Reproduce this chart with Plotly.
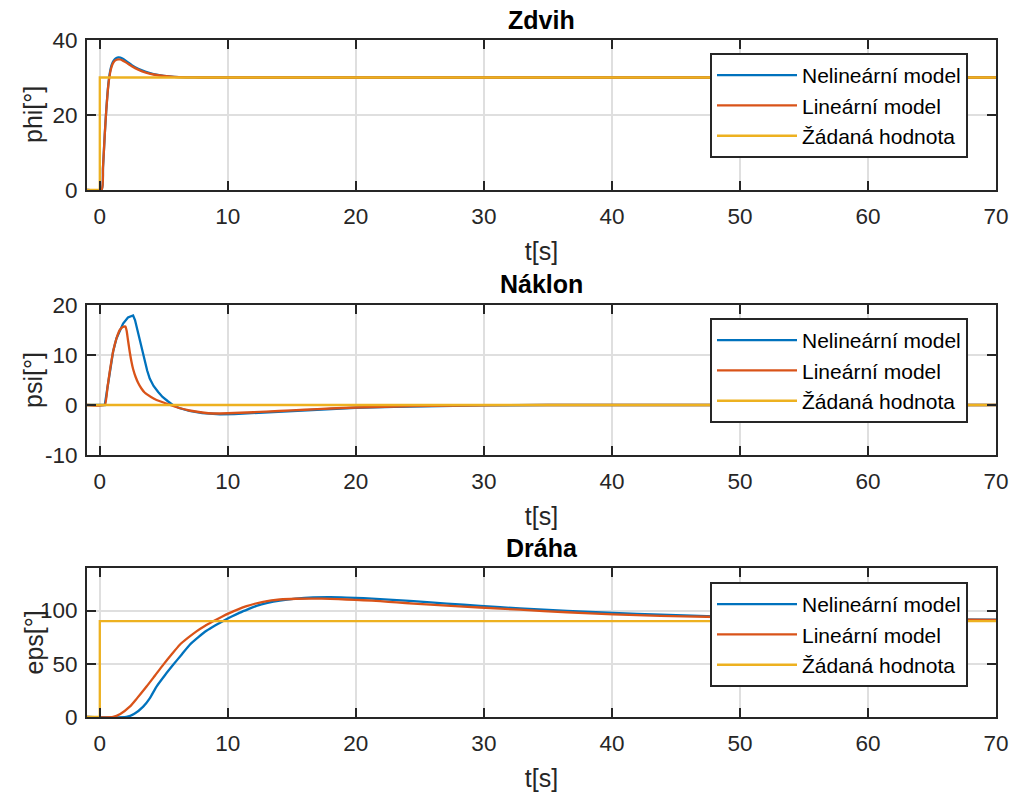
import plotly.graph_objects as go

# ---------------- data ----------------
# Zdvih (phi)
phi_nl_t = [-1, 0.13, 0.25, 0.39, 0.5, 0.62, 0.73, 0.85, 1.0, 1.15, 1.3, 1.45, 1.6, 1.8, 2.1, 2.5, 3.0, 3.6, 4.2, 5.0, 5.8, 6.8, 8.0, 10, 70]
phi_nl_y = [0, 0, 6, 15, 21, 26.5, 30, 32.4, 34.0, 34.8, 35.2, 35.35, 35.3, 35.0, 34.3, 33.3, 32.3, 31.5, 30.9, 30.45, 30.18, 30.05, 30.0, 30.0, 30.0]
phi_lin_t = [-1, 0.13, 0.25, 0.39, 0.5, 0.62, 0.73, 0.85, 1.0, 1.15, 1.3, 1.45, 1.6, 1.8, 2.1, 2.5, 3.0, 3.6, 4.2, 5.0, 5.8, 6.8, 8.0, 10, 70]
phi_lin_y = [0, 0, 6, 15, 21, 26.3, 29.7, 32.0, 33.6, 34.4, 34.75, 34.85, 34.8, 34.5, 33.9, 33.0, 32.1, 31.3, 30.8, 30.4, 30.15, 30.04, 30.0, 30.0, 30.0]
phi_ref_t = [-1, 0, 0, 70]
phi_ref_y = [0, 0, 30, 30]

# Náklon (psi)
psi_nl_t = [-1, 0.39, 0.6, 0.78, 1.04, 1.3, 1.56, 1.82, 2.2, 2.6, 2.75, 2.9, 3.05, 3.2, 3.35, 3.52, 3.7, 3.9, 4.2, 4.56, 4.9, 5.34, 5.7, 6.2, 7.0, 8.0, 9.4, 10.5, 12, 14, 16, 18, 20, 23, 26, 30, 35, 70]
psi_nl_y = [0, 0, 3.5, 6.7, 10.7, 13.3, 15.0, 16.3, 17.5, 17.9, 17.0, 15.4, 13.7, 12.0, 10.3, 8.7, 6.9, 5.3, 3.8, 2.6, 1.6, 0.7, 0.0, -0.6, -1.2, -1.6, -1.85, -1.8, -1.6, -1.3, -1.0, -0.75, -0.55, -0.35, -0.2, -0.08, 0, 0]
psi_lin_t = [-1, 0.39, 0.6, 0.78, 1.04, 1.3, 1.56, 1.8, 2.0, 2.1, 2.2, 2.34, 2.47, 2.6, 2.8, 3.0, 3.25, 3.5, 4.0, 4.43, 5.2, 5.5, 6.2, 7.0, 8.0, 8.85, 10, 12, 14, 16, 18, 20, 23, 26, 30, 35, 70]
psi_lin_y = [0, 0, 3.5, 6.7, 10.7, 13.3, 15.0, 15.6, 15.7, 14.8, 13.0, 10.6, 8.7, 7.2, 5.6, 4.4, 3.3, 2.5, 1.6, 1.0, 0.3, 0.0, -0.6, -1.1, -1.5, -1.7, -1.65, -1.45, -1.2, -0.95, -0.7, -0.5, -0.3, -0.18, -0.07, 0, 0]
psi_ref_t = [-1, 70]
psi_ref_y = [0, 0]

# Dráha (eps)
eps_nl_t = [-1, 2.08, 2.7, 3.39, 3.9, 4.43, 5.1, 5.73, 6.4, 7.03, 7.7, 8.33, 9.0, 9.64, 10.3, 10.94, 11.6, 12.24, 13.1, 14.06, 15.3, 16.67, 18.0, 19.27, 20.6, 21.9, 23.2, 24.5, 27.1, 29.7, 32.8, 36.5, 40.1, 43.8, 47.4, 52, 56, 60, 65, 70]
eps_nl_y = [0, 0, 3.0, 9.7, 17.5, 28.6, 39.5, 49, 58.8, 67.9, 75.0, 81, 86.0, 90.3, 94.5, 98.1, 101.4, 104.4, 107.2, 109.4, 111.2, 112.3, 112.5, 112.2, 111.6, 110.7, 109.8, 108.8, 106.6, 104.4, 102.0, 99.7, 97.8, 96.1, 94.8, 93.6, 92.8, 92.2, 91.7, 91.4]
eps_lin_t = [-1, 1.04, 1.6, 2.34, 2.9, 3.65, 4.3, 4.95, 5.6, 6.25, 6.9, 7.55, 8.2, 8.85, 9.5, 10.16, 10.8, 11.46, 12.1, 12.76, 13.4, 14.06, 15.3, 16.67, 18.0, 19.27, 20.6, 21.9, 23.2, 24.5, 27.1, 29.7, 32.8, 36.5, 40.1, 43.8, 47.4, 52, 56, 60, 65, 70]
eps_lin_y = [0, 0, 2.8, 9.7, 17.5, 28.6, 38.8, 49, 58.7, 67.9, 74.5, 80.5, 85.5, 89.9, 94.0, 97.8, 101.1, 104.1, 106.4, 108.2, 109.5, 110.4, 111.1, 111.3, 111.0, 110.4, 109.7, 108.8, 107.7, 106.6, 104.7, 102.9, 100.8, 98.4, 96.5, 95.1, 94.2, 93.3, 92.6, 92.0, 91.6, 91.3]
eps_ref_t = [-1, 0, 0, 70]
eps_ref_y = [0, 0, 90, 90]

subplot_titles = ["Zdvih", "Náklon", "Dráha"]
y_titles = ["phi[°]", "psi[°]", "eps[°]"]
series_names = ["Nelineární model", "Lineární model", "Žádaná hodnota"]
x_ticks = [0, 10, 20, 30, 40, 50, 60, 70]
y_ticks = [[0, 20, 40], [-10, 0, 10, 20], [0, 50, 100]]
y_tick_text = [["0", "20", "40"], ["-10", "0", "10", "20"], ["0", "50", "100"]]
y_ranges = [[0, 40], [-10, 20], [0, 140]]
x_range = [-1, 70]

colors = ["#0072BD", "#D95319", "#EDB120"]
# drawing style of the curves in each panel
shapes_per_panel = [["spline", "spline", "linear"],
                    ["linear", "spline", "linear"],
                    ["spline", "spline", "linear"]]
smooth_per_panel = [[0.6, 0.6, 0], [0, 0.4, 0], [0.6, 0.6, 0]]

# ---------------- layout geometry (pixels) ----------------
W, H = 1013, 792
x0_px, x1_px = 87, 996
plots_px = [(40, 190), (305, 455), (568, 717)]  # top, bottom
title_y_px = [20, 284, 548]
ytitle_x_px = 33
legend_top_px = [53, 318, 582]
legend_left_px = 710

FONT = "Liberation Sans, Arial, Helvetica, sans-serif"
AXC = "#262626"

data_sets = [
    [(phi_nl_t, phi_nl_y), (phi_lin_t, phi_lin_y), (phi_ref_t, phi_ref_y)],
    [(psi_nl_t, psi_nl_y), (psi_lin_t, psi_lin_y), (psi_ref_t, psi_ref_y)],
    [(eps_nl_t, eps_nl_y), (eps_lin_t, eps_lin_y), (eps_ref_t, eps_ref_y)],
]

fig = go.Figure()
layout = dict(
    width=W, height=H,
    margin=dict(l=0, r=0, t=0, b=0, autoexpand=False),
    paper_bgcolor="white", plot_bgcolor="white",
    font=dict(family=FONT, size=22, color=AXC),
    annotations=[],
)

for i in range(3):
    suffix = "" if i == 0 else str(i + 1)
    xa = "x" + suffix
    ya = "y" + suffix
    leg = "legend" + suffix
    for j in range(3):
        t, y = data_sets[i][j]
        fig.add_trace(go.Scatter(
            x=t, y=y, mode="lines", name=series_names[j],
            line=dict(color=colors[j], width=2.3, shape=shapes_per_panel[i][j],
                      smoothing=smooth_per_panel[i][j] or None),
            xaxis=xa, yaxis=ya, legend=leg,
        ))
    top, bot = plots_px[i]
    layout["xaxis" + suffix] = dict(
        domain=[x0_px / W, x1_px / W], anchor=ya, range=x_range, automargin=False,
        tickvals=x_ticks, ticks="inside", ticklen=9, tickwidth=2, tickcolor=AXC,
        showline=True, linewidth=2, linecolor=AXC, mirror="ticks",
        showgrid=True, gridcolor="#dfdfdf", gridwidth=2, zeroline=False,
        tickfont=dict(size=22.5, color=AXC), ticklabelstandoff=5,
        title=dict(text="t[s]", font=dict(size=25, color=AXC), standoff=14),
    )
    layout["yaxis" + suffix] = dict(
        domain=[1 - bot / H, 1 - top / H], anchor=xa, range=y_ranges[i], automargin=False,
        tickvals=y_ticks[i], ticktext=y_tick_text[i],
        ticks="inside", ticklen=9, tickwidth=2, tickcolor=AXC,
        showline=True, linewidth=2, linecolor=AXC, mirror="ticks",
        showgrid=True, gridcolor="#dfdfdf", gridwidth=2, zeroline=False,
        tickfont=dict(size=22.5, color=AXC), ticklabelstandoff=3,
    )
    layout[leg] = dict(
        x=legend_left_px / W, y=1 - legend_top_px[i] / H,
        xanchor="left", yanchor="top",
        bgcolor="white", bordercolor=AXC, borderwidth=2,
        font=dict(size=21, color="black", family=FONT),
        itemwidth=80, tracegroupgap=0,
    )
    # panel title
    layout["annotations"].append(dict(
        text="<b>" + subplot_titles[i] + "</b>", xref="paper", yref="paper",
        x=(x0_px + x1_px) / 2 / W, y=1 - title_y_px[i] / H,
        xanchor="center", yanchor="middle", showarrow=False,
        font=dict(size=25, color="black", family=FONT),
    ))
    # y-axis label (aligned in the same column for all panels, as in the reference)
    layout["annotations"].append(dict(
        text=y_titles[i], xref="paper", yref="paper",
        x=ytitle_x_px / W, y=1 - (top + bot) / 2 / H,
        xanchor="center", yanchor="middle", showarrow=False, textangle=-90,
        font=dict(size=25, color=AXC, family=FONT),
    ))

fig.update_layout(**layout)
fig.write_html("out.html")
